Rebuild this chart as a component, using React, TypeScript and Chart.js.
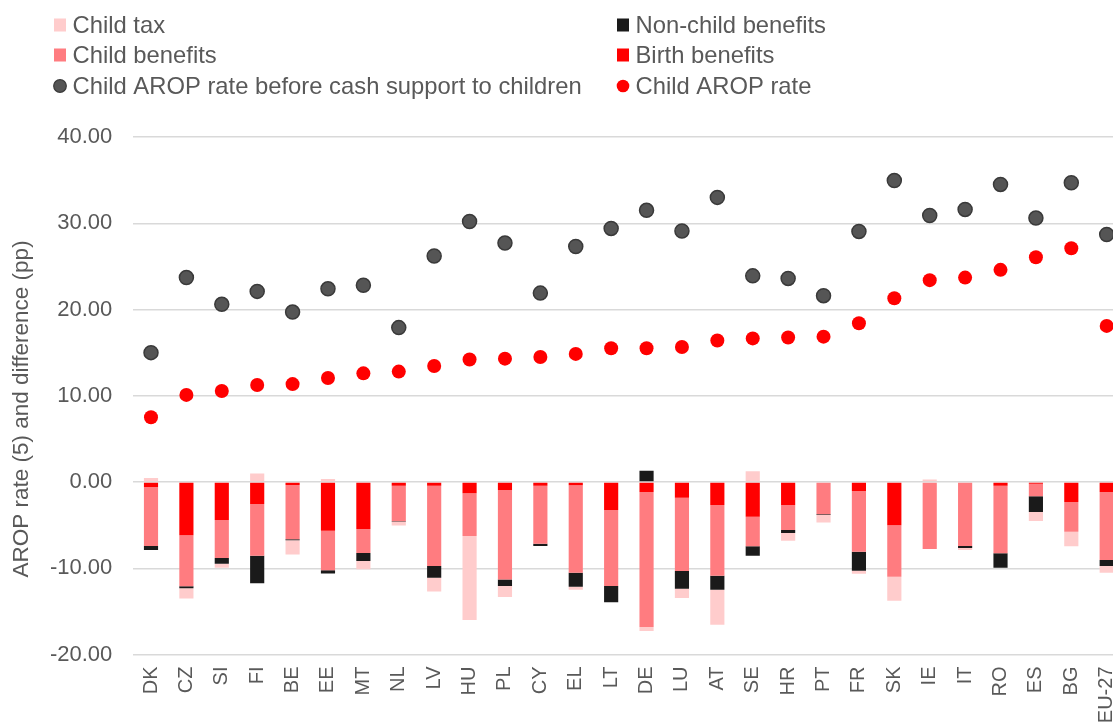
import React, { useEffect, useRef } from "react";
import { Chart, registerables } from "chart.js";

Chart.register(...registerables);

const categories = ["DK","CZ","SI","FI","BE","EE","MT","NL","LV","HU","PL","CY","EL","LT","DE","LU","AT","SE","HR","PT","FR","SK","IE","IT","RO","ES","BG","EU-27"];
const birthBenefits = [-0.58,-6.18,-4.4,-2.55,-0.35,-5.64,-5.45,-0.43,-0.43,-1.31,-0.93,-0.43,-0.39,-3.25,-1.16,-1.82,-2.67,-4.02,-2.67,0,-1.04,-5.02,0,0,-0.43,-0.2,-2.32,-1.16];
const childBenefits = [-6.84,-5.92,-4.4,-5.99,-6.3,-4.6,-2.78,-4.13,-9.31,-4.95,-10.36,-6.72,-10.12,-8.81,-15.64,-8.5,-8.19,-3.44,-2.89,-3.75,-7.04,-5.96,-7.77,-7.42,-7.84,-1.46,-3.44,-7.88];
const nonChildBenefits = [-0.46,-0.23,-0.67,-3.21,-0.1,-0.36,-0.93,-0.05,-1.36,0,-0.77,-0.27,-1.63,-1.89,1.3,-2.05,-1.62,-1.08,-0.35,-0.08,-2.2,0,0,-0.23,-1.66,-1.82,0,-0.7];
const childTax = [0.46,-1.17,-0.46,1.0,-1.65,0.35,-0.96,-0.42,-1.6,-9.74,-1.27,0,-0.34,0,-0.48,-1.08,-4.06,1.24,-0.89,-0.88,-0.35,-2.78,0.3,-0.23,0,-1.04,-1.7,-0.77];
const aropBefore = [15.0,23.7,20.6,22.1,19.7,22.4,22.8,17.9,26.2,30.2,27.7,21.9,27.3,29.4,31.5,29.1,33.0,23.9,23.6,21.6,29.05,34.95,30.9,31.6,34.5,30.6,34.7,28.7];
const arop = [7.5,10.1,10.55,11.25,11.35,12.05,12.6,12.8,13.45,14.2,14.3,14.5,14.85,15.5,15.5,15.65,16.4,16.65,16.75,16.85,18.4,21.3,23.4,23.7,24.6,26.05,27.1,18.1];
const yTicks = [-20, -10, 0, 10, 20, 30, 40];
const yTitle = "AROP rate (5) and difference (pp)";

const FONT = "'Liberation Sans', Arial, sans-serif";
const TEXT = "#595959";

// legend grid: rows of dataset indices (left column, right column)
const legendGrid = [[3, 2], [1, 0], [4, 5]];

const legendPlugin = {
  id: "twoColLegend",
  afterDraw(chart: any) {
    const ctx = chart.ctx;
    const colX = [60, 623];
    const rowY = [25, 55, 86];
    ctx.save();
    ctx.font = `23.8px ${FONT}`;
    ctx.textBaseline = "middle";
    ctx.textAlign = "left";
    legendGrid.forEach((row, r) => {
      row.forEach((di, c) => {
        const ds = chart.data.datasets[di];
        const cx = colX[c];
        const cy = rowY[r];
        if (ds.type === "line") {
          ctx.beginPath();
          ctx.arc(cx, cy, 6.3, 0, Math.PI * 2);
          ctx.fillStyle = ds.pointBackgroundColor;
          ctx.fill();
          if (ds.pointBorderWidth) {
            ctx.lineWidth = 1.2;
            ctx.strokeStyle = ds.pointBorderColor;
            ctx.stroke();
          }
        } else {
          ctx.fillStyle = ds.backgroundColor;
          ctx.fillRect(cx - 6, cy - 6.5, 12, 13);
        }
        ctx.fillStyle = TEXT;
        ctx.fillText(ds.label, cx + 12.5, cy + 1);
      });
    });
    // y-axis title
    ctx.save();
    ctx.translate(22, 409);
    ctx.rotate(-Math.PI / 2);
    ctx.font = `22.5px ${FONT}`;
    ctx.textAlign = "center";
    ctx.textBaseline = "middle";
    ctx.fillStyle = TEXT;
    ctx.fillText(yTitle, 0, 0);
    ctx.restore();
    ctx.restore();
  },
};

export default function App() {
  const ref = useRef<HTMLCanvasElement | null>(null);
  useEffect(() => {
    if (!ref.current) return;
    const bar = (label: string, data: number[], color: string) => ({
      type: "bar" as const,
      label,
      data,
      backgroundColor: color,
      borderWidth: 0,
      stack: "bars",
      order: 2,
      barPercentage: 0.4,
      categoryPercentage: 1,
    });
    const chart = new Chart(ref.current, {
      type: "bar",
      data: {
        labels: categories,
        datasets: [
          bar("Birth benefits", birthBenefits, "#ff0000"),
          bar("Child benefits", childBenefits, "#ff7c80"),
          bar("Non-child benefits", nonChildBenefits, "#1a1a1a"),
          bar("Child tax", childTax, "#ffcccc"),
          {
            type: "line",
            label: "Child AROP rate before cash support to children",
            data: aropBefore,
            showLine: false,
            pointRadius: 7,
            pointBackgroundColor: "#555555",
            pointBorderColor: "#3a3a3a",
            pointBorderWidth: 1.5,
            stack: "before",
            order: 1,
          } as any,
          {
            type: "line",
            label: "Child AROP rate",
            data: arop,
            showLine: false,
            pointRadius: 7,
            pointBackgroundColor: "#ff0000",
            pointBorderColor: "#ff0000",
            pointBorderWidth: 0,
            stack: "after",
            order: 0,
          } as any,
        ],
      },
      options: {
        responsive: false,
        animation: false,
        devicePixelRatio: 1,
        events: [],
        layout: { padding: { top: 137, left: 0, right: 25.6, bottom: 0 } },
        plugins: { legend: { display: false }, tooltip: { enabled: false } },
        scales: {
          x: {
            stacked: true,
            grid: { display: false, drawTicks: false },
            border: { display: false },
            ticks: {
              autoSkip: false,
              minRotation: 90,
              maxRotation: 90,
              padding: 12,
              color: TEXT,
              font: { family: FONT, size: 20 },
            },
            afterFit: (s: any) => {
              s.height = 67.5;
            },
          },
          y: {
            stacked: true,
            min: -20,
            max: 40,
            afterBuildTicks: (s: any) => {
              s.ticks = yTicks.map((v) => ({ value: v }));
            },
            grid: { color: "#d9d9d9", lineWidth: 1.5, drawTicks: false },
            border: { display: false },
            ticks: {
              padding: 21,
              color: TEXT,
              font: { family: FONT, size: 22 },
              callback: (v: any) => Number(v).toFixed(2),
            },
            afterFit: (s: any) => {
              s.width = 133.3;
            },
          },
        },
      },
      plugins: [legendPlugin],
    });
    return () => chart.destroy();
  }, []);
  return (
    <div
      style={{
        position: "fixed",
        left: 0,
        top: 0,
        width: 1113,
        height: 722,
        overflow: "hidden",
        background: "#ffffff",
      }}
    >
      <canvas ref={ref} width={1150} height={722} style={{ display: "block", width: 1150, height: 722 }} />
    </div>
  );
}
